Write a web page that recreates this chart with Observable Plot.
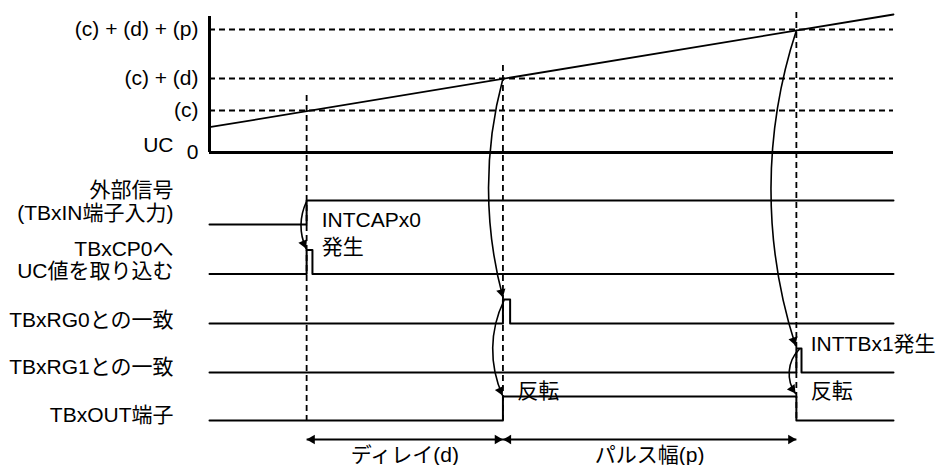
<!DOCTYPE html>
<html><head><meta charset="utf-8">
<script src="https://cdn.jsdelivr.net/npm/d3@7"></script>
<script src="https://cdn.jsdelivr.net/npm/@observablehq/plot@0.6"></script>
<style>
html,body{margin:0;padding:0;background:#fff;}
</style></head><body><div id="chart"></div>
<script>
// ---- data (time in arbitrary units 0..100, counter/level in common vertical units) ----
const eventTimes = [14.2, 42.9, 85.8];           // capture (c), match RG0 (c)+(d), match RG1 (c)+(d)+(p)
const eventGuideTops = [57, 87, 140];            // top of the dashed guide for each event
const guideBottom = -268;

const ucLevels = [0, 42, 74, 123];
const ucLabels = ["0", "(c)", "(c) + (d)", "(c) + (d) + (p)"];
const ucAxisTop = 136;

const rampTimes = [0, 100];
const rampValues = [25.3, 138];

const signalNames = ["ext", "cp0", "rg0", "rg1", "out"];
const signalBase = [-72, -121.5, -171, -220, -268];
const signalAmp = 24;
const signalEdges = [
  [[0, 0], [14.2, 1], [100, 1]],
  [[0, 0], [14.2, 1], [15.05, 0], [100, 0]],
  [[0, 0], [42.9, 1], [43.95, 0], [100, 0]],
  [[0, 0], [85.8, 1], [86.55, 0], [100, 0]],
  [[0, 0], [42.9, 1], [85.8, 0], [100, 0]]
];

const rowLabels = ["外部信号", "(TBxIN端子入力)", "TBxCP0へ", "UC値を取り込む", "TBxRG0との一致", "TBxRG1との一致", "TBxOUT端子"];
const rowLabelY = [-38, -61, -97, -119, -168, -215, -263];
const ucName = "UC";
const ucNameY = 7;

const arcStartT = [14.18, 42.9, 43.05, 85.8, 86.2];
const arcStartV = [-49, 74, -148, 122, -197];
const arcEndT = [14.1, 42.9, 42.84, 85.67, 85.67];
const arcEndV = [-96, -145, -243, -193, -241];
const arcBend = [-24, -15, -25, -18, -40];

const noteTexts = ["INTCAPx0", "発生", "INTTBx1発生", "反転", "反転"];
const noteT = [16.4, 16.4, 87.9, 45.0, 87.9];
const noteV = [-68, -95, -191.5, -239, -239];

const spanLabels = ["ディレイ(d)", "パルス幅(p)"];
const spanArrowV = -287;
const spanLabelV = -303;

// ---- layout ----
const W = 939, H = 465, ML = 209, MR = 46;
const xDomain = [0, 100], yDomain = [-313, 152];
const xpx = t => ML + (t - xDomain[0]) / (xDomain[1] - xDomain[0]) * (W - ML - MR);
const ypx = v => H - (v - yDomain[0]) / (yDomain[1] - yDomain[0]) * H;
const FONT = '"Liberation Sans", Arial, "Noto Sans CJK JP", sans-serif';
const headR = 3.5;
const tipOff = 2 * Math.sqrt(Math.PI * headR * headR / (3 * Math.sqrt(3)));

const ramp = rampTimes.map((t, i) => ({t, v: rampValues[i]}));
const signalPts = signalNames.flatMap((name, i) => signalEdges[i].map(([t, l]) => ({name, t, v: signalBase[i] + l * signalAmp})));
const guides = eventTimes.map((t, i) => ({t, top: eventGuideTops[i]}));
const rows = rowLabels.map((text, i) => ({text, v: rowLabelY[i]}));
const notes = noteTexts.map((text, i) => ({text, t: noteT[i], v: noteV[i]}));
const spans = [
  {t1: eventTimes[0], t2: eventTimes[1], label: spanLabels[0]},
  {t1: eventTimes[1], t2: eventTimes[2], label: spanLabels[1]}
];

function head(t, v, dir) {
  const r = dir * Math.PI / 180;
  return Plot.dot([{t, v}], {x: "t", y: "v", symbol: "triangle", r: headR, fill: "black", stroke: "none",
    rotate: dir + 90, dx: -tipOff * Math.cos(r), dy: -tipOff * Math.sin(r)});
}

const arcMarks = arcStartT.map((t1, i) => {
  const x1 = xpx(t1), y1 = ypx(arcStartV[i]), x2 = xpx(arcEndT[i]), y2 = ypx(arcEndV[i]);
  const dir = Math.atan2(y2 - y1, x2 - x1) * 180 / Math.PI + arcBend[i];
  return [
    Plot.arrow([{t1, v1: arcStartV[i], t2: arcEndT[i], v2: arcEndV[i]}],
      {x1: "t1", y1: "v1", x2: "t2", y2: "v2", bend: arcBend[i], headLength: 0, strokeWidth: 1.6, stroke: "black"}),
    head(arcEndT[i], arcEndV[i], dir)
  ];
});

const spanHeads = spans.flatMap(s => [head(s.t1, spanArrowV, 180), head(s.t2, spanArrowV, 0)]);

const chart = Plot.plot({
  width: W, height: H,
  marginLeft: ML, marginRight: MR, marginTop: 0, marginBottom: 0,
  x: {domain: xDomain, axis: null},
  y: {domain: yDomain},
  style: {fontFamily: FONT, fontSize: "21px", background: "white", color: "black", overflow: "visible"},
  marks: [
    Plot.axisY(ucLevels, {tickFormat: d => ucLabels[ucLevels.indexOf(d)], tickSize: 0, tickPadding: 11, label: null, fontSize: 21}),
    Plot.ruleY(ucLevels.slice(1), {x1: xDomain[0], x2: xDomain[1], stroke: "black", strokeWidth: 1.8, strokeDasharray: "6,4"}),
    Plot.ruleX(guides, {x: "t", y1: "top", y2: guideBottom, stroke: "black", strokeWidth: 1.8, strokeDasharray: "6,4"}),
    Plot.line(ramp, {x: "t", y: "v", stroke: "black", strokeWidth: 1.8}),
    Plot.ruleY([0], {x1: xDomain[0], x2: xDomain[1], stroke: "black", strokeWidth: 3}),
    Plot.ruleX([0], {y1: 0, y2: ucAxisTop, stroke: "black", strokeWidth: 3}),
    Plot.line(signalPts, {x: "t", y: "v", z: "name", curve: "step-after", stroke: "black", strokeWidth: 2}),
    ...arcMarks.flat(),
    Plot.link(spans, {x1: "t1", x2: "t2", y1: spanArrowV, y2: spanArrowV, stroke: "black", strokeWidth: 1.8}),
    ...spanHeads,
    Plot.text([ucName], {x: 0, y: ucNameY, text: d => d, dx: -36, textAnchor: "end", fill: "black"}),
    Plot.text(rows, {x: 0, y: "v", text: "text", dx: -36, textAnchor: "end", fill: "black"}),
    Plot.text(notes, {x: "t", y: "v", text: "text", textAnchor: "start", fill: "black"}),
    Plot.text(spans, {x: d => (d.t1 + d.t2) / 2, y: spanLabelV, text: "label", textAnchor: "middle", fill: "black"})
  ]
});
document.getElementById("chart").appendChild(chart);
</script></body></html>
